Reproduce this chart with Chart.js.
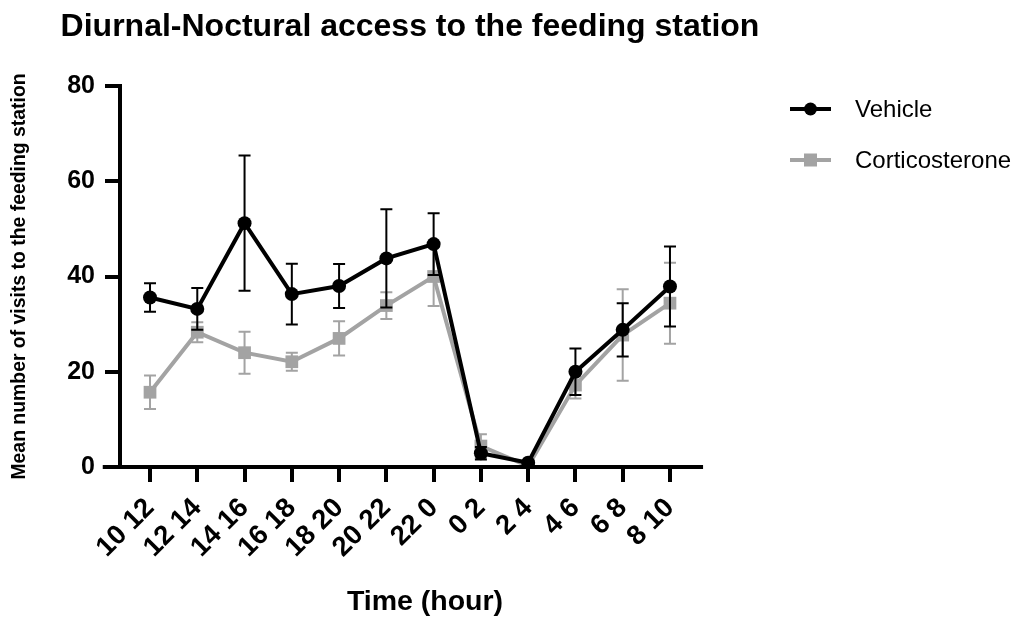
<!DOCTYPE html>
<html>
<head>
<meta charset="utf-8">
<script src="https://cdn.jsdelivr.net/npm/chart.js@4.4.1/dist/chart.umd.min.js"></script>
<style>
    html, body { margin: 0; padding: 0; background: #fff; }
    #wrap { width: 1029px; height: 619px; }
</style>
</head>
<body>
<div id="wrap"><canvas id="myChart"></canvas></div>
<script>
// values (mean +/- SEM)
const timeLabels = ["10 12", "12 14", "14 16", "16 18", "18 20", "20 22", "22 0", "0 2", "2 4", "4 6", "6 8", "8 10"];
const vehicleMean = [35.6, 33.2, 51.2, 36.3, 38.0, 43.8, 46.8, 2.9, 0.9, 20.0, 28.8, 37.9];
const vehicleSem = [3.0, 4.4, 14.2, 6.4, 4.6, 10.3, 6.5, 1.3, 0.3, 4.9, 5.6, 8.4];
const corticoMean = [15.7, 28.3, 24.0, 22.1, 27.0, 33.9, 40.0, 4.4, 0.2, 17.2, 27.7, 34.4];
const corticoSem = [3.5, 2.1, 4.4, 1.9, 3.6, 2.8, 6.2, 2.5, 0.4, 2.8, 9.6, 8.5];
const yTicks = [0, 20, 40, 60, 80];
const chartTitle = "Diurnal-Noctural access to the feeding station";

const FONT = "'Liberation Sans', Arial, Helvetica, sans-serif";
const BLACK = "#000000";
const GREY = "#a3a3a3";

// the drawn x axis runs from -1 to 11.7 (in category units)
const AXIS_FROM = -1;
const AXIS_TO = 11.7;

const toPoints = (arr) => arr.map((y, i) => ({ x: i, y: y }));

// error bars, drawn just before each dataset's own line
const errorBars = {
    id: "errorBars",
    beforeDatasetDraw(chart, args) {
        const ds = chart.data.datasets[args.index];
        const xs = chart.scales.x;
        const ys = chart.scales.y;
        const ctx = chart.ctx;
        ctx.save();
        ctx.strokeStyle = ds.borderColor;
        ctx.lineWidth = 2;
        ds.sem.forEach((s, i) => {
            const m = ds.data[i].y;
            const x = xs.getPixelForValue(i);
            const top = ys.getPixelForValue(m + s);
            const bot = ys.getPixelForValue(Math.max(0, m - s));
            ctx.beginPath();
            ctx.moveTo(x, top); ctx.lineTo(x, bot);
            ctx.moveTo(x - 6, top); ctx.lineTo(x + 6, top);
            ctx.moveTo(x - 6, bot); ctx.lineTo(x + 6, bot);
            ctx.stroke();
        });
        ctx.restore();
    },
};

// x axis line: starts a bit left of the y axis and stops after the last tick (Prism style)
const axisExtras = {
    id: "axisExtras",
    afterDraw(chart) {
        const ctx = chart.ctx;
        const xs = chart.scales.x;
        const x0 = xs.getPixelForValue(AXIS_FROM);
        const x1 = xs.getPixelForValue(AXIS_TO);
        ctx.save();
        ctx.fillStyle = BLACK;
        ctx.fillRect(x0, xs.top - 2, x1 - x0, 4);
        ctx.restore();
    },
};

// title centred over the graph
const topTitle = {
    id: "topTitle",
    afterDraw(chart) {
        const ctx = chart.ctx;
        ctx.save();
        ctx.fillStyle = BLACK;
        ctx.font = "bold 32px " + FONT;
        ctx.textAlign = "center";
        ctx.textBaseline = "middle";
        ctx.fillText(chartTitle, 410, 27);
        ctx.restore();
    },
};

// legend: line + marker, text on the right
const sideLegend = {
    id: "sideLegend",
    afterDraw(chart) {
        const ctx = chart.ctx;
        const rows = [109, 160];
        ctx.save();
        chart.data.datasets.forEach((ds, k) => {
            const y = rows[k];
            ctx.strokeStyle = ds.borderColor;
            ctx.fillStyle = ds.borderColor;
            ctx.lineWidth = 4;
            ctx.beginPath();
            ctx.moveTo(790, y); ctx.lineTo(831, y);
            ctx.stroke();
            if (ds.pointStyle === "circle") {
                ctx.beginPath();
                ctx.arc(810.5, y, 6.5, 0, Math.PI * 2);
                ctx.fill();
            } else {
                ctx.fillRect(804, y - 6.5, 13, 13);
            }
            ctx.fillStyle = BLACK;
            ctx.font = "24px " + FONT;
            ctx.textBaseline = "middle";
            ctx.textAlign = "left";
            ctx.fillText(ds.label, 855, y + 1);
        });
        ctx.restore();
    },
};

const ctx = document.getElementById("myChart").getContext("2d");
const myChart = new Chart(ctx, {
    type: "line",
    data: {
        datasets: [
            {
                label: "Vehicle",
                data: toPoints(vehicleMean),
                sem: vehicleSem,
                borderColor: BLACK,
                backgroundColor: BLACK,
                borderWidth: 4,
                pointStyle: "circle",
                pointRadius: 7,
                pointBorderWidth: 0,
                pointBackgroundColor: BLACK,
                tension: 0,
            },
            {
                label: "Corticosterone",
                data: toPoints(corticoMean),
                sem: corticoSem,
                borderColor: GREY,
                backgroundColor: GREY,
                borderWidth: 4,
                pointStyle: "rect",
                pointRadius: 9,
                pointBorderWidth: 0,
                pointBackgroundColor: GREY,
                tension: 0,
            },
        ],
    },
    options: {
        responsive: true,
        maintainAspectRatio: false,
        animation: false,
        layout: { padding: { left: 0, right: 299, top: 86, bottom: 0 } },
        scales: {
            x: {
                type: "linear",
                min: -0.635,
                max: 12.27,
                afterBuildTicks: (scale) => {
                    scale.ticks = timeLabels.map((t, i) => ({ value: i }));
                },
                afterFit: (scale) => { scale.height = 152; },
                ticks: {
                    autoSkip: false,
                    minRotation: 45,
                    maxRotation: 45,
                    padding: 10,
                    color: BLACK,
                    font: { family: FONT, size: 27.5, weight: "bold" },
                    callback: (v) => timeLabels[v],
                },
                grid: {
                    drawOnChartArea: false,
                    drawTicks: true,
                    tickLength: 15,
                    tickWidth: 4,
                    tickColor: BLACK,
                    color: BLACK,
                    lineWidth: 4,
                },
                border: { display: false },
                title: {
                    display: true,
                    text: "Time (hour)",
                    color: BLACK,
                    font: { family: FONT, size: 28.5, weight: "bold" },
                    padding: { top: 0, bottom: 0 },
                },
            },
            y: {
                min: 0,
                max: 80,
                afterBuildTicks: (scale) => {
                    scale.ticks = yTicks.map((v) => ({ value: v }));
                },
                afterFit: (scale) => { scale.width = 120; },
                ticks: {
                    padding: 10,
                    color: BLACK,
                    font: { family: FONT, size: 25, weight: "bold" },
                },
                grid: {
                    drawOnChartArea: false,
                    drawTicks: true,
                    tickLength: 15,
                    tickWidth: 4,
                    tickColor: BLACK,
                    color: BLACK,
                    lineWidth: 4,
                },
                border: { display: true, color: BLACK, width: 4 },
                title: {
                    display: true,
                    text: "Mean number of visits to the feeding station",
                    color: BLACK,
                    font: { family: FONT, size: 19.4, weight: "bold" },
                    padding: { top: 8, bottom: 0 },
                },
            },
        },
        plugins: {
            legend: { display: false },
            tooltip: { enabled: false },
            title: { display: false },
        },
    },
    plugins: [errorBars, axisExtras, topTitle, sideLegend],
});
</script>
</body>
</html>
